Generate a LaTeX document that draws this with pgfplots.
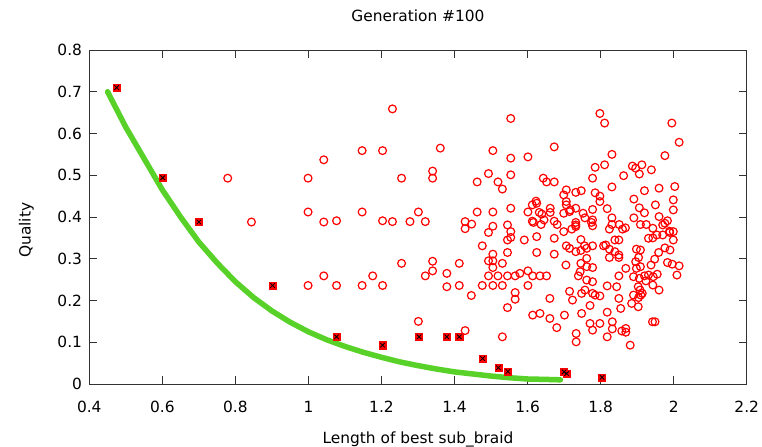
\documentclass[border=0pt]{standalone}
\usepackage{fontspec}
\setmainfont{DejaVu Sans}
\usepackage{pgfplots}
\usepackage{pgfplotstable}
\pgfplotsset{compat=1.18}
\definecolor{fitgreen}{RGB}{88,210,40}
\definecolor{popred}{RGB}{255,0,0}
\definecolor{axisgray}{RGB}{50,50,50}

% whole population: (length, quality)
\pgfplotstableread{
x y
0.779 0.493
0.844 0.388
0.999 0.493
0.999 0.412
0.999 0.236
1.042 0.537
1.042 0.388
1.042 0.259
1.077 0.391
1.077 0.236
1.147 0.559
1.147 0.412
1.147 0.236
1.176 0.259
1.203 0.559
1.203 0.391
1.203 0.236
1.230 0.659
1.230 0.389
1.255 0.493
1.255 0.289
1.278 0.389
1.301 0.412
1.301 0.150
1.320 0.389
1.320 0.259
1.340 0.510
1.340 0.493
1.340 0.294
1.340 0.271
1.361 0.565
1.379 0.265
1.379 0.233
1.413 0.289
1.413 0.236
1.429 0.389
1.429 0.372
1.429 0.128
1.447 0.383
1.446 0.212
1.462 0.484
1.462 0.412
1.476 0.331
1.476 0.236
1.493 0.504
1.493 0.363
1.493 0.295
1.493 0.259
1.505 0.559
1.505 0.412
1.505 0.378
1.505 0.311
1.505 0.295
1.505 0.279
1.505 0.236
1.519 0.484
1.519 0.259
1.531 0.467
1.531 0.289
1.531 0.236
1.531 0.113
1.545 0.381
1.545 0.345
1.545 0.315
1.545 0.259
1.545 0.183
1.554 0.636
1.554 0.541
1.554 0.501
1.554 0.421
1.554 0.365
1.554 0.351
1.566 0.259
1.566 0.219
1.566 0.203
1.579 0.265
1.591 0.345
1.601 0.544
1.601 0.412
1.601 0.271
1.601 0.236
1.613 0.429
1.623 0.438
1.625 0.433
1.613 0.390
1.616 0.387
1.614 0.259
1.614 0.165
1.625 0.353
1.625 0.315
1.632 0.411
1.639 0.407
1.637 0.382
1.645 0.393
1.634 0.259
1.634 0.169
1.643 0.493
1.652 0.484
1.652 0.259
1.662 0.421
1.662 0.411
1.661 0.205
1.661 0.157
1.673 0.568
1.673 0.484
1.673 0.390
1.681 0.382
1.673 0.349
1.673 0.311
1.680 0.135
1.699 0.453
1.706 0.465
1.706 0.437
1.706 0.429
1.699 0.409
1.715 0.413
1.717 0.417
1.732 0.421
1.752 0.409
1.732 0.459
1.747 0.463
1.732 0.387
1.732 0.381
1.699 0.365
1.721 0.371
1.732 0.377
1.746 0.346
1.706 0.331
1.715 0.325
1.732 0.317
1.746 0.320
1.705 0.285
1.746 0.289
1.739 0.259
1.715 0.222
1.723 0.201
1.748 0.217
1.701 0.165
1.748 0.169
1.733 0.121
1.733 0.101
1.798 0.648
1.811 0.625
1.995 0.625
2.015 0.579
1.831 0.550
1.976 0.547
1.785 0.519
1.811 0.525
1.887 0.522
1.896 0.517
1.913 0.525
1.906 0.503
1.939 0.513
1.778 0.493
1.863 0.499
1.785 0.458
1.798 0.450
1.798 0.437
1.831 0.472
1.920 0.463
1.960 0.469
2.003 0.473
1.891 0.443
1.999 0.441
1.778 0.418
1.818 0.420
1.906 0.422
1.920 0.410
1.950 0.429
1.999 0.417
1.757 0.398
1.778 0.393
1.775 0.387
1.778 0.379
1.831 0.398
1.831 0.382
1.851 0.382
1.868 0.374
1.891 0.398
1.909 0.382
1.925 0.382
1.960 0.401
1.983 0.391
1.976 0.385
1.970 0.381
1.943 0.373
1.824 0.371
1.860 0.371
1.989 0.366
1.756 0.331
1.762 0.325
1.778 0.331
1.839 0.345
1.850 0.345
1.808 0.331
1.814 0.333
1.824 0.323
1.931 0.349
1.943 0.350
1.954 0.357
1.970 0.357
1.989 0.363
1.999 0.345
1.999 0.365
1.824 0.303
1.850 0.303
1.850 0.309
1.839 0.317
1.869 0.277
1.898 0.323
1.909 0.321
1.904 0.303
1.896 0.293
1.909 0.281
1.898 0.277
1.959 0.315
1.976 0.326
1.990 0.321
1.948 0.299
1.938 0.285
1.983 0.291
1.996 0.287
2.015 0.283
2.009 0.261
1.762 0.301
1.762 0.281
1.778 0.279
1.850 0.259
1.890 0.257
1.906 0.253
1.920 0.259
1.931 0.261
1.944 0.257
1.955 0.263
1.924 0.247
1.943 0.237
1.960 0.225
1.744 0.269
1.762 0.249
1.778 0.245
1.818 0.235
1.844 0.233
1.757 0.225
1.778 0.217
1.785 0.213
1.798 0.211
1.903 0.233
1.908 0.225
1.914 0.217
1.910 0.213
1.904 0.207
1.890 0.213
1.885 0.193
1.903 0.185
1.850 0.205
1.855 0.181
1.771 0.188
1.818 0.172
1.771 0.145
1.798 0.145
1.778 0.129
1.832 0.149
1.832 0.132
1.858 0.127
1.869 0.133
1.869 0.124
1.818 0.113
1.881 0.093
1.942 0.149
1.949 0.149
}\population

% non-dominated individuals
\pgfplotstableread{
x y
0.475 0.710
0.601 0.494
0.700 0.388
0.902 0.236
1.077 0.113
1.203 0.093
1.303 0.113
1.379 0.113
1.413 0.113
1.477 0.061
1.520 0.039
1.546 0.030
1.700 0.029
1.707 0.025
1.804 0.016
}\front

% fitted trade-off curve
\pgfplotstableread{
x y
0.45 0.700
0.50 0.615
0.55 0.540
0.60 0.465
0.65 0.400
0.70 0.340
0.75 0.290
0.80 0.245
0.85 0.207
0.90 0.175
0.95 0.148
1.00 0.125
1.05 0.106
1.10 0.090
1.15 0.076
1.20 0.064
1.25 0.053
1.30 0.044
1.35 0.036
1.40 0.029
1.45 0.024
1.50 0.019
1.55 0.015
1.60 0.012
1.65 0.011
1.69 0.010
}\trend

\begin{document}
\fontsize{15.4bp}{18bp}\selectfont
\begin{tikzpicture}
\path[use as bounding box] (-89.3bp,-63bp) rectangle (672.7bp,384bp);
\begin{axis}[
  scale only axis,
  width=657.4bp, height=334bp,
  xmin=0.4, xmax=2.2, ymin=0, ymax=0.8,
  xtick={0.4,0.6,0.8,1,1.2,1.4,1.6,1.8,2,2.2},
  ytick={0,0.1,0.2,0.3,0.4,0.5,0.6,0.7,0.8},
  tick align=inside,
  major tick length=8bp,
  axis line style={line width=0.9bp, axisgray},
  every tick/.style={line width=0.9bp, axisgray},
  /pgf/number format/assume math mode=true,
  ticklabel style={font=\fontsize{15.4bp}{18bp}\selectfont},
  xticklabel style={yshift=-12bp},
  yticklabel style={xshift=-2bp},
  title={Generation \#100},
  title style={at={([yshift=28bp]axis description cs:0.5,1)}, anchor=center, inner sep=0pt},
  xlabel={Length of best sub\_braid},
  xlabel style={at={([yshift=-55bp]axis description cs:0.5,0)}, anchor=center, inner sep=0pt},
  ylabel={Quality},
  ylabel style={at={([xshift=-63bp]axis description cs:0,0.46)}, anchor=center, inner sep=0pt},
  clip mode=individual,
]
\addplot[only marks, mark=o, mark size=3.9bp, mark options={draw=popred, line width=1.2bp}]
  table[x=x, y=y] {\population};
\addplot[fitgreen, line width=5.5bp, line cap=round] table[x=x, y=y] {\trend};
\addplot[only marks, mark=square*, mark size=3.6bp, mark options={fill=popred, draw=popred}]
  table[x=x, y=y] {\front};
\addplot[only marks, mark=x, mark size=3.2bp, mark options={draw=black, line width=0.8bp}]
  table[x=x, y=y] {\front};
\end{axis}
\end{tikzpicture}
\end{document}
